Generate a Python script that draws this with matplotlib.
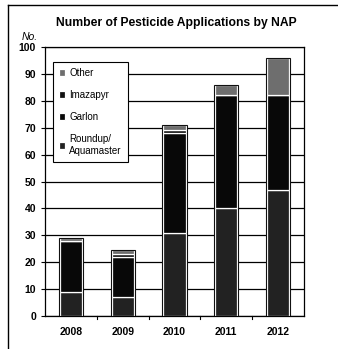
import matplotlib
matplotlib.use("Agg")
import matplotlib.pyplot as plt
from matplotlib.lines import Line2D

plt.rcParams["font.family"] = ["Liberation Sans", "DejaVu Sans"]

# data
years = ["2008", "2009", "2010", "2011", "2012"]
roundup = [9, 7, 31, 40, 47]
garlon = [19, 15, 37, 42, 35]
imazapyr = [0, 1, 1, 0, 0]
other = [1, 1.5, 2, 4, 14]

series = [
    ("Roundup/\nAquamaster", roundup, "#222222"),
    ("Garlon", garlon, "#080808"),
    ("Imazapyr", imazapyr, "#111111"),
    ("Other", other, "#6e6e6e"),
]

fig = plt.figure(figsize=(3.38, 3.49), dpi=100)
ax = fig.add_axes([45 / 338, 1 - 316 / 349, 259 / 338, 269 / 349])

x = range(len(years))
bottom = [0] * len(years)
handles = []
for name, vals, col in series:
    b = ax.bar(x, vals, width=0.43, bottom=bottom, color=col,
               edgecolor="white", linewidth=0.9, label=name, zorder=3)
    handles.append(b)
    bottom = [a + v for a, v in zip(bottom, vals)]
# dark outline round each full stack
ax.bar(x, bottom, width=0.47, fill=False, edgecolor="#111111",
       linewidth=0.8, zorder=4)

ax.set_xlim(-0.5, 4.5)
ax.set_ylim(0, 100)
ax.set_yticks(range(0, 101, 10))
ax.set_xticks(list(x))
ax.set_xticklabels(years)
ax.grid(axis="y", color="black", linewidth=0.9, zorder=0)
for s in ax.spines.values():
    s.set_linewidth(0.9)
ax.tick_params(axis="both", labelsize=7.5, width=0.8, length=3)
for t in ax.get_xticklabels() + ax.get_yticklabels():
    t.set_fontweight("bold")
ax.tick_params(axis="x", length=0, pad=8)
# small tick marks between categories
for b in [0.5, 1.5, 2.5, 3.5]:
    ax.plot([b, b], [0, -1.2], color="black", lw=0.8, clip_on=False)

leg = ax.legend(handles[::-1], [h.get_label() for h in handles[::-1]],
                loc="upper left", bbox_to_anchor=(0.03, 0.945),
                fontsize=7, frameon=True, fancybox=False,
                edgecolor="black", framealpha=1, handlelength=0.7,
                handleheight=0.7, labelspacing=1.25, borderpad=0.6,
                handletextpad=0.4, borderaxespad=0)
leg.get_frame().set_linewidth(0.8)
leg.set_zorder(5)

fig.text(176 / 338, 1 - 23 / 349, "Number of Pesticide Applications by NAP",
         ha="center", va="center", fontsize=8.7, fontweight="bold")
fig.text(30 / 338, 1 - 37 / 349, "No.", ha="center", va="center",
         fontsize=7.5, style="italic")

# scan frame (left and top edges only)
fig.add_artist(Line2D([8 / 338, 8 / 338], [0, 1 - 5 / 349], color="black",
                      lw=1, transform=fig.transFigure))
fig.add_artist(Line2D([8 / 338, 1], [1 - 5 / 349, 1 - 5 / 349], color="black",
                      lw=1, transform=fig.transFigure))

fig.savefig("out.png", dpi=100)
